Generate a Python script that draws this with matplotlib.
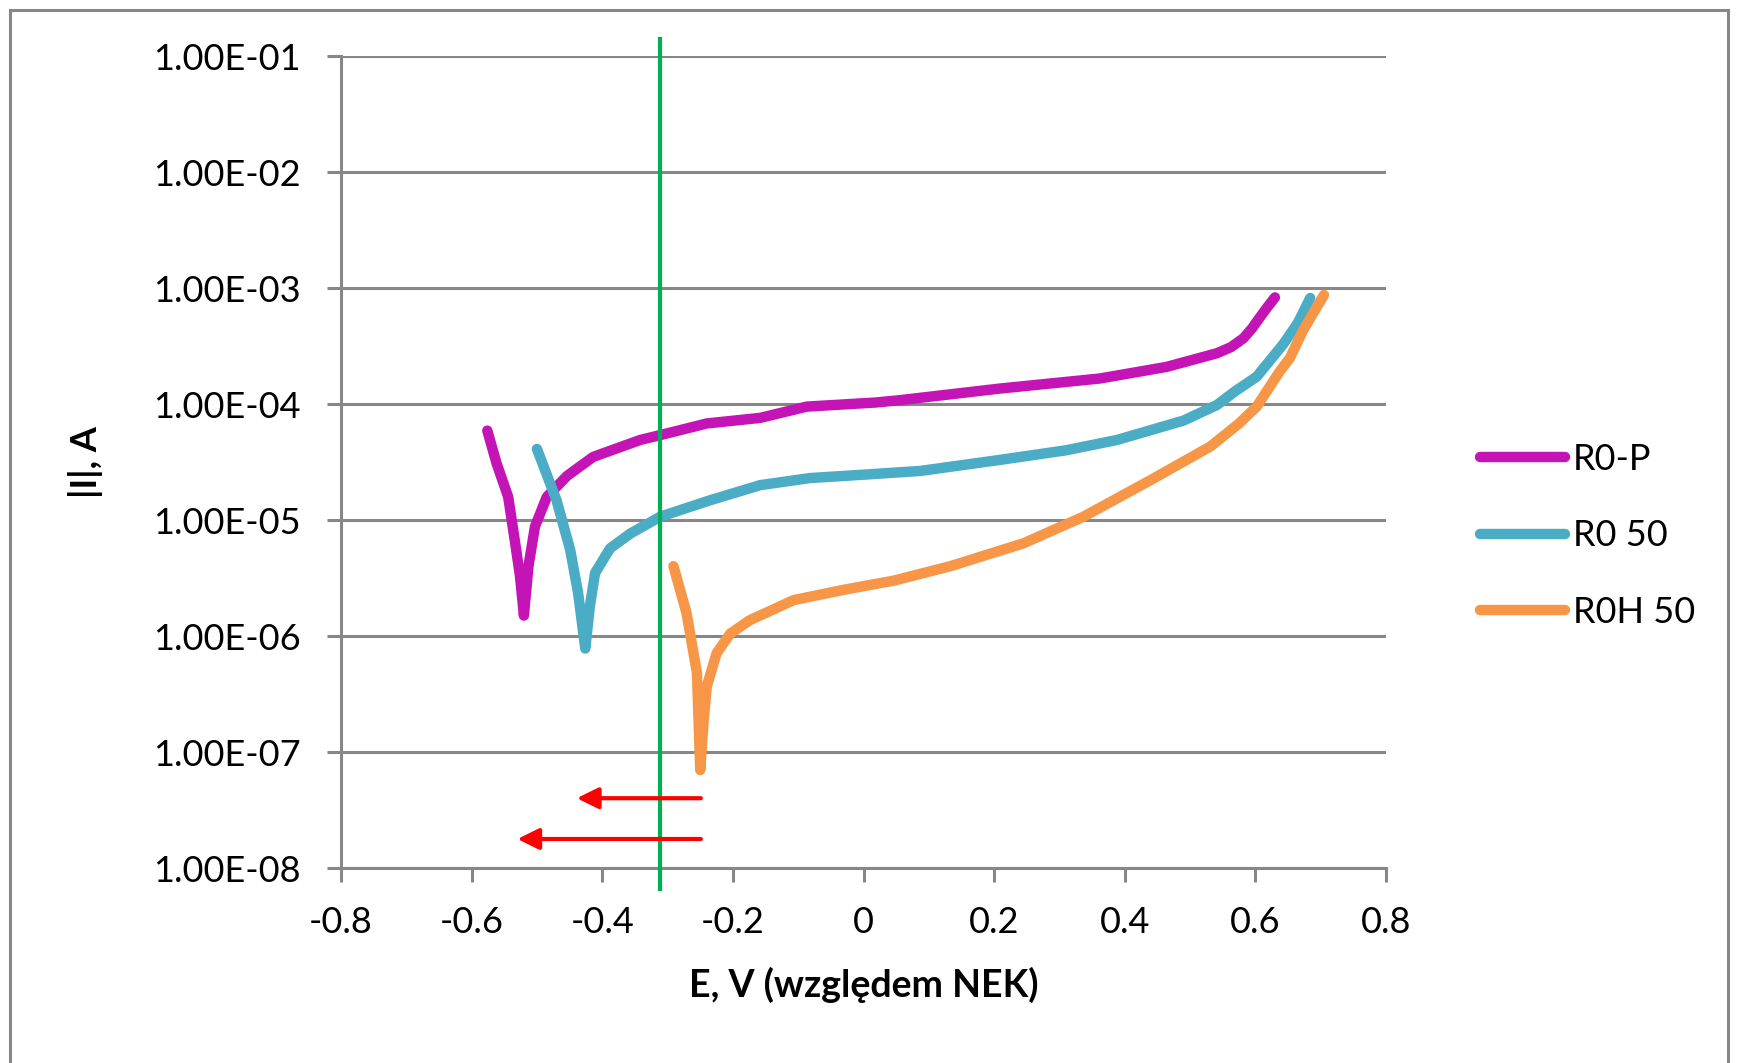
import numpy as np
import matplotlib.pyplot as plt
from matplotlib.patches import Rectangle
from matplotlib.ticker import FuncFormatter, FixedLocator

plt.rcParams['font.family'] = ['Lato', 'DejaVu Sans']
plt.rcParams['axes.unicode_minus'] = False

# krzywe polaryzacji |I| = f(E)
rop_e = [-0.576, -0.562, -0.544, -0.534, -0.526, -0.520, -0.513, -0.503, -0.485, -0.454,
         -0.414, -0.342, -0.311, -0.240, -0.158, -0.087, 0.018, 0.056, 0.209, 0.362,
         0.464, 0.541, 0.563, 0.582, 0.595, 0.607, 0.618, 0.630]
rop_i = [5.9e-5, 3.1e-5, 1.58e-5, 6.7e-6, 3.3e-6, 1.5e-6, 4.0e-6, 8.8e-6, 1.58e-5, 2.4e-5,
         3.5e-5, 4.9e-5, 5.4e-5, 6.8e-5, 7.6e-5, 9.5e-5, 1.03e-4, 1.08e-4, 1.36e-4, 1.66e-4,
         2.09e-4, 2.74e-4, 3.1e-4, 3.7e-4, 4.5e-4, 5.6e-4, 6.8e-4, 8.3e-4]

r50_e = [-0.500, -0.470, -0.449, -0.437, -0.426, -0.419, -0.411, -0.388, -0.357, -0.311,
         -0.235, -0.158, -0.082, -0.005, 0.087, 0.209, 0.311, 0.388, 0.490, 0.541,
         0.570, 0.602, 0.643, 0.665, 0.684]
r50_i = [4.1e-5, 1.48e-5, 5.5e-6, 2.35e-6, 7.8e-7, 1.8e-6, 3.5e-6, 5.7e-6, 7.65e-6, 1.07e-5,
         1.48e-5, 2.0e-5, 2.3e-5, 2.45e-5, 2.65e-5, 3.3e-5, 4.0e-5, 4.9e-5, 7.2e-5, 9.8e-5,
         1.3e-4, 1.72e-4, 3.3e-4, 5.0e-4, 8.2e-4]

r0h_e = [-0.291, -0.271, -0.255, -0.250, -0.245, -0.240, -0.225, -0.204, -0.174, -0.107,
         -0.031, 0.046, 0.133, 0.245, 0.337, 0.439, 0.531, 0.575, 0.602, 0.637, 0.653,
         0.672, 0.688, 0.705]
r0h_i = [4.0e-6, 1.58e-6, 4.8e-7, 7.0e-8, 1.8e-7, 3.66e-7, 7.1e-7, 1.05e-6, 1.37e-6, 2.04e-6,
         2.5e-6, 3.0e-6, 4.0e-6, 6.3e-6, 1.07e-5, 2.2e-5, 4.3e-5, 6.8e-5, 9.5e-5, 1.9e-4, 2.5e-4,
         4.2e-4, 6.0e-4, 8.7e-4]

labels = ['R0-P', 'R0 50', 'R0H 50']
colors = ['#C414B6', '#4BACC6', '#F79646']

# pionowa linia odniesienia i strzalki przesuniecia potencjalu
ref_e = -0.312
ref_i = [1.4e-1, 6.6e-9]
shift_start = [-0.249, -0.249]
shift_end = [-0.439, -0.530]
shift_i = [4.0e-8, 1.78e-8]

x_ticks = [-0.8, -0.6, -0.4, -0.2, 0, 0.2, 0.4, 0.6, 0.8]
y_ticks = [1e-8, 1e-7, 1e-6, 1e-5, 1e-4, 1e-3, 1e-2, 1e-1]

grey = '#878787'
fig = plt.figure(figsize=(17.39, 10.63), dpi=100)
ax = fig.add_axes([0.1961, 0.1834, 0.6009, 0.7639])

for e, i, lab, c in zip([rop_e, r50_e, r0h_e], [rop_i, r50_i, r0h_i], labels, colors):
    ax.plot(e, i, color=c, lw=7.5, label=lab, solid_capstyle='round', solid_joinstyle='round', zorder=3)

ax.plot([ref_e, ref_e], ref_i, color='#00B050', lw=3, clip_on=False, zorder=4)
for x0, x1, yy in zip(shift_start, shift_end, shift_i):
    ax.annotate('', xy=(x1, yy), xytext=(x0, yy),
                arrowprops=dict(arrowstyle='-|>,head_length=0.65,head_width=0.32',
                                color='#FF0000', lw=3, mutation_scale=20,
                                shrinkA=0, shrinkB=0), zorder=5)

ax.set_yscale('log')
ax.set_xlim(-0.8, 0.8)
ax.set_ylim(1e-8, 1e-1)
ax.yaxis.set_major_locator(FixedLocator(y_ticks))
ax.yaxis.set_minor_locator(FixedLocator([]))
ax.yaxis.set_major_formatter(FuncFormatter(lambda v, p: f'{v:.2E}'))
ax.xaxis.set_major_locator(FixedLocator(x_ticks))
ax.xaxis.set_major_formatter(FuncFormatter(lambda v, p: f'{round(v, 1):g}'))

ax.grid(axis='y', color=grey, lw=2.2)
ax.set_axisbelow(True)
for s in ['top', 'right']:
    ax.spines[s].set_visible(False)
for s in ['left', 'bottom']:
    ax.spines[s].set_color(grey)
    ax.spines[s].set_linewidth(2.2)
ax.tick_params(axis='both', color=grey, width=2.2, length=10, labelsize=26, labelcolor='black')
ax.tick_params(axis='y', pad=19)
ax.tick_params(axis='x', pad=17)

ax.set_xlabel('E, V (względem NEK)', fontsize=27, fontweight='bold', labelpad=20)
ax.set_ylabel('|I|, A', fontsize=26, fontweight='bold', labelpad=36)

ax.legend(loc='center left', bbox_to_anchor=(0.843, 0.496), bbox_transform=fig.transFigure,
          frameon=False, fontsize=26, handlelength=2.35, handletextpad=0.2,
          labelspacing=1.2, borderaxespad=0)

fig.patches.append(Rectangle((10 / 1739, -0.05), 1718 / 1739, 1.05 - 10 / 1063,
                             transform=fig.transFigure, fill=False, edgecolor=grey, lw=2.2))

fig.savefig('out.png', dpi=100)
